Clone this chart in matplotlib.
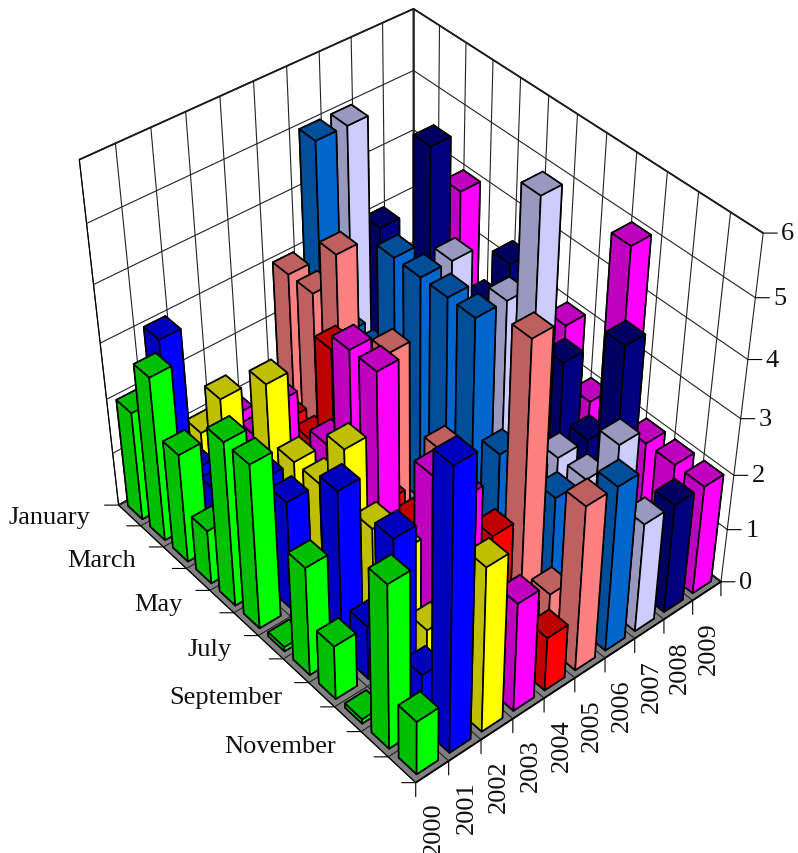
import numpy as np
import matplotlib
matplotlib.use('Agg')
import matplotlib.pyplot as plt
from matplotlib.colors import to_rgb
from mpl_toolkits.mplot3d import proj3d

plt.rcParams['font.family'] = ['Liberation Serif', 'DejaVu Serif']
plt.rcParams['grid.color'] = '#222222'
plt.rcParams['grid.linewidth'] = 0.8

# Value of each month, one list per year
months = ['January', 'February', 'March', 'April', 'May', 'June', 'July',
          'August', 'September', 'October', 'November', 'December']
years = ['2000', '2001', '2002', '2003', '2004', '2005', '2006', '2007', '2008', '2009']
v2000 = [2, 3, 2, 1, 3, 3, 0, 2, 1, 0, 3, 1]
v2001 = [3, 1, 1, 1, 2, 2, 1, 3, 1, 3, 1, 5]
v2002 = [1, 2, 1, 3, 2, 2, 3, 2, 2, 1, 1, 3]
v2003 = [1, 1, 2, 1, 2, 4, 4, 1, 3, 3, 1, 2]
v2004 = [0, 1, 1, 3, 1, 1, 1, 1, 1, 2, 1, 1]
v2005 = [3, 3, 4, 2, 3, 0, 2, 0, 0, 5, 1, 3]
v2006 = [5, 2, 2, 4, 4, 4, 4, 2, 2, 2, 1, 3]
v2007 = [5, 1, 2, 2, 4, 3, 4, 6, 2, 2, 3, 2]
v2008 = [3, 1, 5, 2, 3, 4, 2, 3, 2, 4, 1, 2]
v2009 = [1, 2, 4, 2, 1, 2, 3, 2, 5, 2, 2, 2]
values = [v2000, v2001, v2002, v2003, v2004, v2005, v2006, v2007, v2008, v2009]
colors = ['#00ff00', '#0000ff', '#ffff00', '#ff00ff', '#ff0000',
          '#ff8080', '#0066cc', '#ccccff', '#000080', '#ff00ff']

BAR = 0.65
FLAT = 0.08   # zero bars still show as a thin plate

fig = plt.figure(figsize=(7.98, 8.54), dpi=100)
ax = fig.add_axes([0.006, 0.041, 1, 1], projection='3d', computed_zorder=False)
ax.set_proj_type('persp', focal_length=0.55)
ax.view_init(elev=41, azim=-130)
ax.set_xlim(0, 10)
ax.set_ylim(0, 12)
ax.set_zlim(0, 6)
ax.set_box_aspect((10, 12, 11), zoom=0.968)
ax.patch.set_alpha(0)

ax.xaxis.set_pane_color('white')
ax.yaxis.set_pane_color('white')
ax.zaxis.set_pane_color('#808080')
for axis, ticks in ((ax.xaxis, range(11)), (ax.yaxis, range(13)), (ax.zaxis, range(7))):
    axis.set_ticks(list(ticks))
    axis.set_ticklabels([])
    axis.pane.set_edgecolor('black')
    axis.pane.set_linewidth(1.3)
    axis.line.set_color('black')
    axis.set_tick_params(color='none')

# farthest bars first, so they overlap the right way
z = 10
for j in range(len(years) - 1, -1, -1):
    base = np.array(to_rgb(colors[j]))
    dark = tuple(base * 0.75)
    face = [dark, dark, tuple(base), tuple(base), dark, dark]
    for i in range(len(months)):
        h = max(values[j][i], FLAT)
        ax.bar3d(j + (1 - BAR) / 2, 11 - i + (1 - BAR) / 2, 0, BAR, BAR, h,
                 color=face, edgecolor='black', linewidth=1.2, shade=False, zorder=z)
        z += 1


def tick(x, y, zv, dx, dy):
    px, py, _ = proj3d.proj_transform(x, y, zv, ax.get_proj())
    ax.annotate('', xy=(px, py), xytext=(dx, dy), textcoords='offset pixels',
                annotation_clip=False, zorder=z + 1,
                arrowprops=dict(arrowstyle='-', lw=0.8, color='black', shrinkA=0, shrinkB=0))


def label(x, y, zv, dx, dy, s, **kw):
    px, py, _ = proj3d.proj_transform(x, y, zv, ax.get_proj())
    ax.annotate(s, xy=(px, py), xytext=(dx, dy), textcoords='offset pixels',
                annotation_clip=False, fontsize=19, color='#111111', zorder=z + 1, **kw)


for k in range(13):
    tick(0, k, 0, -14, 0)
for k in range(11):
    tick(k, 0, 0, 0, -14)
for k in range(7):
    tick(10, 0, k, 14, 0)

for i, m in enumerate(months):
    if i % 2 == 0:
        label(0, 11.5 - i, 0, -39, -2, m, ha='right', va='center')
for j, y in enumerate(years):
    label(j + 0.5, 0, 0, 2, -30, y, ha='center', va='top', rotation=90)
for k in range(7):
    label(10, 0, k, 18, 0, str(k), ha='left', va='center')

plt.savefig('out.png', dpi=100)
plt.close()
